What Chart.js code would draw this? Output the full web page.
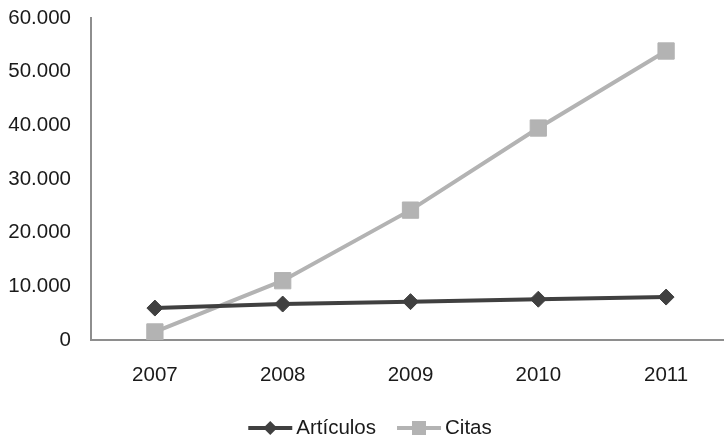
<!DOCTYPE html>
<html>
<head>
<meta charset="utf-8">
<script src="https://cdn.jsdelivr.net/npm/chart.js@4"></script>
<style>
html,body{margin:0;padding:0;background:#fff;overflow:hidden;}
#c{display:block;}
</style>
</head>
<body>
<canvas id="c" width="730" height="441" style="width:730px;height:441px;"></canvas>
<script>
const categories = ['2007', '2008', '2009', '2010', '2011'];
const articulos = [5950, 6700, 7150, 7600, 8000];
const citas = [1500, 11050, 24200, 39500, 53850];
const yTicks = [0, 10000, 20000, 30000, 40000, 50000, 60000];
const seriesNames = ['Artículos', 'Citas'];

const FONT = 'Liberation Sans, Arial, sans-serif';
const DARK = '#404040';
const LIGHT = '#b3b3b3';
const TEXT = '#1a1a1a';

function fmt(v) {
  return String(v).replace(/\B(?=(\d{3})+(?!\d))/g, '.');
}

const legendPlugin = {
  id: 'lineLegend',
  afterDraw(chart) {
    const ctx = chart.ctx;
    ctx.save();
    ctx.font = '20.5px ' + FONT;
    ctx.textBaseline = 'middle';
    const lineW = 44, gapText = 4, gapItem = 21;
    const items = chart.data.datasets.map(ds => ({ds, tw: ctx.measureText(ds.label).width}));
    let total = 0;
    items.forEach((it, i) => { total += lineW + gapText + it.tw + (i ? gapItem : 0); });
    let x = 370 - total / 2;
    const y = 428;
    items.forEach((it, i) => {
      if (i) x += gapItem;
      const ds = it.ds;
      ctx.strokeStyle = ds.borderColor;
      ctx.lineWidth = ds.borderWidth;
      ctx.beginPath();
      ctx.moveTo(x, y);
      ctx.lineTo(x + lineW, y);
      ctx.stroke();
      ctx.fillStyle = ds.pointBackgroundColor;
      ctx.beginPath();
      const cx = x + lineW / 2;
      if (ds.pointStyle === 'rectRot') {
        const r = 7;
        ctx.moveTo(cx, y - r); ctx.lineTo(cx + r, y); ctx.lineTo(cx, y + r); ctx.lineTo(cx - r, y); ctx.closePath();
      } else {
        const s = 7;
        ctx.rect(cx - s, y - s, 2 * s, 2 * s);
      }
      ctx.fill();
      x += lineW + gapText;
      ctx.fillStyle = TEXT;
      ctx.textAlign = 'left';
      ctx.fillText(ds.label, x, y);
      x += it.tw;
    });
    ctx.restore();
  }
};

new Chart(document.getElementById('c'), {
  type: 'line',
  data: {
    labels: categories,
    datasets: [
      {
        label: seriesNames[0],
        data: articulos,
        borderColor: DARK,
        backgroundColor: DARK,
        pointBackgroundColor: DARK,
        pointBorderColor: DARK,
        borderWidth: 4,
        pointStyle: 'rectRot',
        pointRadius: 8,
        pointBorderWidth: 1,
        tension: 0
      },
      {
        label: seriesNames[1],
        data: citas,
        borderColor: LIGHT,
        backgroundColor: LIGHT,
        pointBackgroundColor: LIGHT,
        pointBorderColor: LIGHT,
        borderWidth: 4,
        pointStyle: 'rect',
        pointRadius: 11.5,
        pointBorderWidth: 1,
        tension: 0
      }
    ]
  },
  options: {
    responsive: false,
    devicePixelRatio: 1,
    animation: false,
    layout: { autoPadding: false, padding: { top: 18, right: 0, bottom: 46, left: 0 } },
    plugins: { legend: { display: false }, tooltip: { enabled: false } },
    scales: {
      x: {
        offset: true,
        grid: { display: false, drawTicks: false },
        border: { display: true, color: '#8e8e8e', width: 2 },
        ticks: { color: TEXT, font: { family: FONT, size: 20.5 }, padding: 23, maxRotation: 0 },
        afterFit(s) { s.height = 55; s.paddingLeft = 0; s.paddingRight = 0; }
      },
      y: {
        min: 0,
        max: 60000,
        afterBuildTicks(s) { s.ticks = yTicks.map(v => ({ value: v })); },
        grid: { display: false, drawTicks: false },
        border: { display: true, color: '#8e8e8e', width: 2 },
        ticks: { color: TEXT, font: { family: FONT, size: 20.5 }, padding: 20, callback: v => fmt(v) },
        afterFit(s) { s.width = 91; s.paddingTop = 0; s.paddingBottom = 0; }
      }
    }
  },
  plugins: [legendPlugin]
});
</script>
</body>
</html>
